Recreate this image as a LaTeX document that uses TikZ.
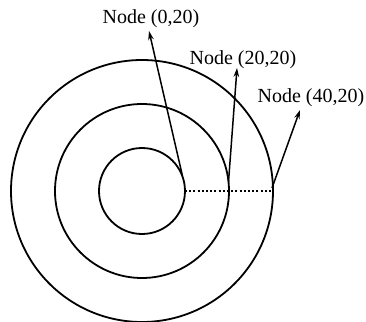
\documentclass[tikz,border=0pt]{standalone}
\usepackage{fontspec}
\setmainfont{Liberation Serif}
\usetikzlibrary{arrows.meta}
\begin{document}
\begin{tikzpicture}[x=0.5pt,y=-0.5pt,
  ring/.style={line width=0.9pt},
  pointer/.style={line width=0.75pt,-{Stealth[length=4.5pt,width=2.8pt]}},
  lbl/.style={font=\fontsize{10pt}{12pt}\selectfont,inner sep=0pt}]
\useasboundingbox (0,0) rectangle (366,322);
\coordinate (c) at (142,191);
\draw[ring] (c) circle[radius=21.5pt];
\draw[ring] (c) circle[radius=43.5pt];
\draw[ring] (c) circle[radius=65.5pt];
\coordinate (p1) at (182.5,176);
\coordinate (p2) at (228.5,182);
\coordinate (p3) at (272,188);
\coordinate (d1) at (185,191);
\coordinate (d3) at (273,191);
\draw[line width=0.7pt,dash pattern=on 1pt off 1.1pt] (d1) -- (d3);
\node[lbl] (n1) at (151,19) {Node (0,20)};
\node[lbl] (n2) at (243,60) {Node (20,20)};
\node[lbl] (n3) at (311,98) {Node (40,20)};
\coordinate (t1) at (149,31);
\coordinate (t2) at (237,68);
\coordinate (t3) at (300,110);
\draw[pointer] (p1) -- (t1);
\draw[pointer] (p2) -- (t2);
\draw[pointer] (p3) -- (t3);
\end{tikzpicture}
\end{document}
